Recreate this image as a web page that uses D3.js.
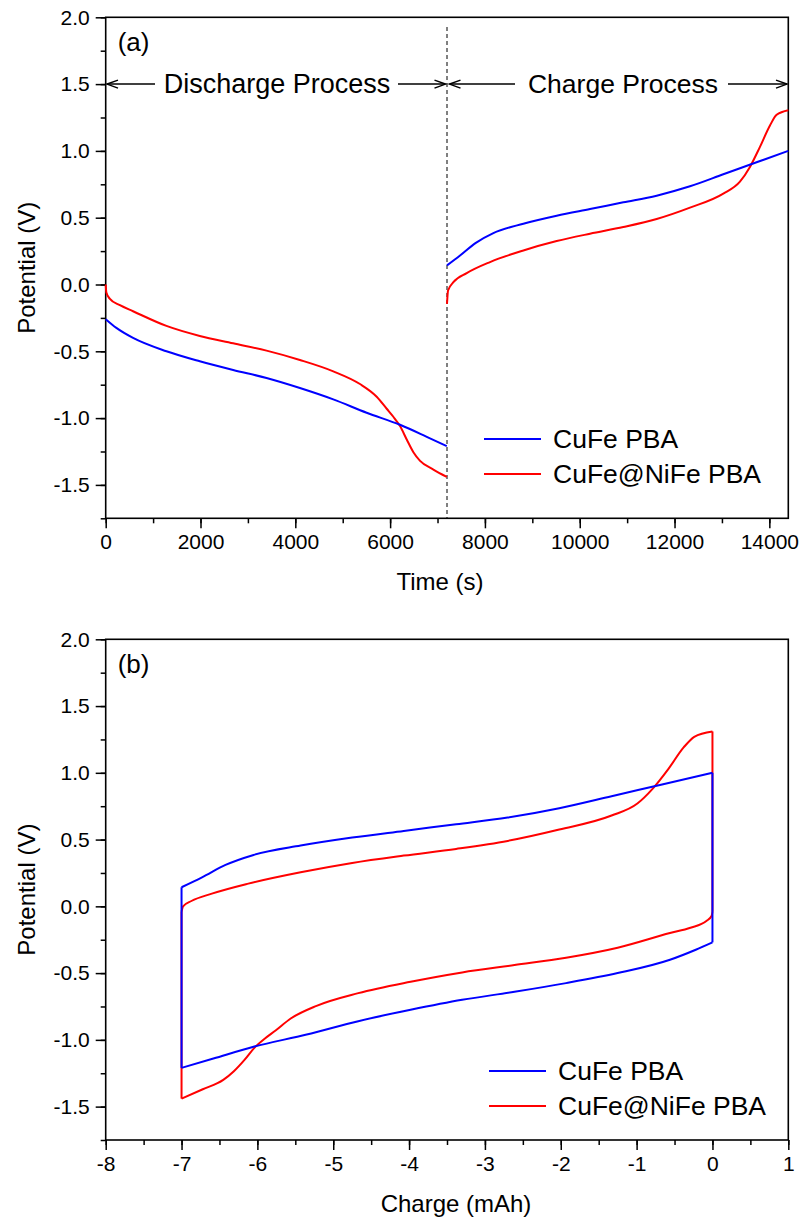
<!DOCTYPE html>
<html>
<head>
<meta charset="utf-8">
<script src="https://cdnjs.cloudflare.com/ajax/libs/d3/7.8.5/d3.min.js"></script>
<style>
  body { margin: 0; background: #fff; }
  svg { display: block; font-family: "Liberation Sans", Arial, sans-serif; }
</style>
</head>
<body>
<svg id="chart" width="804" height="1229"></svg>
<script>
// ---- data ----
// panel (a): time (s) vs potential (V)
var cufeDischargeT = [0, 225, 577, 1281, 1985, 2689, 3393, 4097, 4801, 5505, 6209, 6773, 7195];
var cufeDischargeV = [-0.26, -0.325, -0.40, -0.50, -0.575, -0.64, -0.70, -0.775, -0.86, -0.96, -1.05, -1.14, -1.21];
var cufeChargeT = [7200, 7475, 7800, 8178, 8811, 9514, 10217, 10920, 11623, 12326, 13029, 13731, 14400];
var cufeChargeV = [0.143, 0.217, 0.31, 0.385, 0.455, 0.515, 0.565, 0.615, 0.665, 0.735, 0.825, 0.915, 1.0];
var nifeDischargeT = [0, 14, 84, 300, 577, 1281, 1985, 2689, 3393, 4097, 4801, 5364, 5717, 5928, 6068, 6209, 6350, 6491, 6632, 6913, 7195];
var nifeDischargeV = [0.0, -0.06, -0.105, -0.155, -0.20, -0.31, -0.385, -0.44, -0.495, -0.565, -0.65, -0.745, -0.84, -0.93, -0.99, -1.06, -1.16, -1.255, -1.32, -1.385, -1.44];
var nifeChargeT = [7200, 7222, 7335, 7616, 8108, 8811, 9514, 10217, 10920, 11623, 12326, 13029, 13380, 13591, 13802, 14013, 14154, 14400];
var nifeChargeV = [-0.145, -0.045, 0.017, 0.085, 0.168, 0.255, 0.325, 0.38, 0.43, 0.49, 0.575, 0.68, 0.77, 0.88, 1.03, 1.19, 1.27, 1.305];

// panel (b): charge (mAh) vs potential (V)
var cufeDischargeQ = [0, -0.22, -0.56, -1.25, -1.93, -2.61, -3.30, -3.98, -4.67, -5.35, -6.04, -6.58, -7.0];
var cufeDischargeQV = [-0.27, -0.325, -0.40, -0.50, -0.575, -0.64, -0.70, -0.775, -0.86, -0.96, -1.05, -1.14, -1.21];
var cufeChargeQ = [-7.0, -6.73, -6.42, -6.05, -5.43, -4.75, -4.07, -3.38, -2.70, -2.02, -1.33, -0.65, 0];
var cufeChargeQV = [0.143, 0.217, 0.31, 0.385, 0.455, 0.515, 0.565, 0.615, 0.665, 0.735, 0.825, 0.915, 1.0];
var nifeDischargeQ = [0, -0.01, -0.08, -0.29, -0.56, -1.25, -1.93, -2.61, -3.30, -3.98, -4.67, -5.22, -5.56, -5.76, -5.90, -6.04, -6.17, -6.31, -6.45, -6.72, -7.0];
var nifeDischargeQV = [-0.04, -0.07, -0.11, -0.16, -0.20, -0.31, -0.385, -0.44, -0.495, -0.565, -0.65, -0.745, -0.84, -0.93, -0.99, -1.06, -1.15, -1.235, -1.30, -1.37, -1.44];
var nifeChargeQ = [-7.0, -6.98, -6.87, -6.60, -6.12, -5.43, -4.75, -4.07, -3.38, -2.70, -2.02, -1.33, -0.99, -0.79, -0.58, -0.38, -0.24, 0];
var nifeChargeQV = [-0.04, 0.0, 0.04, 0.095, 0.17, 0.255, 0.325, 0.38, 0.43, 0.49, 0.575, 0.68, 0.77, 0.88, 1.03, 1.19, 1.27, 1.31];

var seriesNames = ["CuFe PBA", "CuFe@NiFe PBA"];
var seriesColors = ["#0000ff", "#ff0000"];

var yTicks = [-1.5, -1.0, -0.5, 0.0, 0.5, 1.0, 1.5, 2.0];
var timeTicks = [0, 2000, 4000, 6000, 8000, 10000, 12000, 14000];
var chargeTicks = [-8, -7, -6, -5, -4, -3, -2, -1, 0, 1];

function zip(a, b) { return a.map(function (v, i) { return [v, b[i]]; }); }
// plain hyphen for negatives, like the original figure
function fmt(spec) {
  var f = d3.format(spec);
  return function (d) { return f(d).replace("\u2212", "-"); };
}

var svg = d3.select("#chart");
var left = 105.7, right = 788.3;

function panel(top, bottom, xDomain, xTicks, xMinorStep, xTitle, xTitleX, label) {
  var x = d3.scaleLinear().domain(xDomain).range([left, right]);
  var y = d3.scaleLinear().domain([-1.75, 2.0]).range([bottom, top]);
  var g = svg.append("g");

  // minor ticks
  var xMinor = d3.range(xDomain[0], xDomain[1] + 1e-9, xMinorStep);
  g.append("g").attr("transform", "translate(0," + bottom + ")")
    .call(d3.axisBottom(x).tickValues(xMinor).tickSize(5).tickFormat(""))
    .call(function (s) { s.select(".domain").remove(); s.selectAll("line").attr("stroke-width", 1.5); });
  g.append("g").attr("transform", "translate(" + left + ",0)")
    .call(d3.axisLeft(y).tickValues(d3.range(-1.75, 2.01, 0.25)).tickSize(5).tickFormat(""))
    .call(function (s) { s.select(".domain").remove(); s.selectAll("line").attr("stroke-width", 1.5); });

  // major ticks
  g.append("g").attr("transform", "translate(0," + bottom + ")")
    .call(d3.axisBottom(x).tickValues(xTicks).tickSize(10).tickPadding(6).tickFormat(fmt("d")))
    .call(function (s) {
      s.select(".domain").remove();
      s.selectAll("line").attr("stroke-width", 1.5);
      s.selectAll("text").attr("font-size", 21).attr("fill", "#000").attr("font-family", "Liberation Sans, Arial, sans-serif");
    });
  g.append("g").attr("transform", "translate(" + left + ",0)")
    .call(d3.axisLeft(y).tickValues(yTicks).tickSize(10).tickPadding(6).tickFormat(fmt(".1f")))
    .call(function (s) {
      s.select(".domain").remove();
      s.selectAll("line").attr("stroke-width", 1.5);
      s.selectAll("text").attr("font-size", 21).attr("fill", "#000").attr("font-family", "Liberation Sans, Arial, sans-serif");
    });

  // frame
  g.append("rect").attr("x", left).attr("y", top)
    .attr("width", right - left).attr("height", bottom - top)
    .attr("fill", "none").attr("stroke", "#000").attr("stroke-width", 1.6);

  g.append("text").attr("x", xTitleX).attr("y", bottom + 72)
    .attr("text-anchor", "middle").attr("font-size", 24).text(xTitle);
  g.append("text").attr("transform", "translate(35," + (top + bottom) / 2 + ") rotate(-90)")
    .attr("text-anchor", "middle").attr("font-size", 24).text("Potential (V)");
  g.append("text").attr("x", left + 12).attr("y", top + 34)
    .attr("font-size", 26).text(label);

  return { x: x, y: y, g: g };
}

function drawLegend(g, x0, y0) {
  seriesNames.forEach(function (name, i) {
    var yy = y0 + i * 35;
    g.append("line").attr("x1", x0).attr("x2", x0 + 57).attr("y1", yy).attr("y2", yy)
      .attr("stroke", seriesColors[i]).attr("stroke-width", 2);
    g.append("text").attr("x", x0 + 69).attr("y", yy + 9).attr("font-size", 26.5).text(name);
  });
}

// ---- panel (a) ----
var pa = panel(17.3, 518.3, [0, 14400], timeTicks, 1000, "Time (s)", 440, "(a)");
var lineA = d3.line().x(function (d) { return pa.x(d[0]); }).y(function (d) { return pa.y(d[1]); })
  .curve(d3.curveMonotoneX);

pa.g.append("line").attr("x1", pa.x(7200)).attr("x2", pa.x(7200))
  .attr("y1", 27).attr("y2", 518.3)
  .attr("stroke", "#000").attr("stroke-width", 1).attr("stroke-dasharray", "4,3");

[[nifeDischargeT, nifeDischargeV, 1], [nifeChargeT, nifeChargeV, 1],
 [cufeDischargeT, cufeDischargeV, 0], [cufeChargeT, cufeChargeV, 0]].forEach(function (s) {
  pa.g.append("path").datum(zip(s[0], s[1])).attr("d", lineA)
    .attr("fill", "none").attr("stroke", seriesColors[s[2]]).attr("stroke-width", 2);
});

// process annotations
function arrow(g, x1, x2, yy) {
  var dir = x2 > x1 ? 1 : -1;
  g.append("line").attr("x1", x1).attr("x2", x2).attr("y1", yy).attr("y2", yy)
    .attr("stroke", "#000").attr("stroke-width", 1.5);
  g.append("path")
    .attr("d", "M" + (x2 - dir * 11) + "," + (yy - 4) + "L" + x2 + "," + yy + "L" + (x2 - dir * 11) + "," + (yy + 4))
    .attr("fill", "none").attr("stroke", "#000").attr("stroke-width", 1.5);
}
var annY = pa.y(1.5);
arrow(pa.g, 155, 107, annY);
arrow(pa.g, 398, 445.5, annY);
arrow(pa.g, 515, 449.5, annY);
arrow(pa.g, 728, 787, annY);
pa.g.append("text").attr("x", 277).attr("y", annY + 9).attr("text-anchor", "middle")
  .attr("font-size", 27).text("Discharge Process");
pa.g.append("text").attr("x", 623).attr("y", annY + 9).attr("text-anchor", "middle")
  .attr("font-size", 26.5).text("Charge Process");

drawLegend(pa.g, 484, 439);

// ---- panel (b) ----
var pb = panel(639.3, 1140, [-8, 1], chargeTicks, 0.5, "Charge (mAh)", 456, "(b)");
var lineB = d3.line().x(function (d) { return pb.x(d[0]); }).y(function (d) { return pb.y(d[1]); })
  .curve(d3.curveMonotoneX);
var lineStraight = d3.line().x(function (d) { return pb.x(d[0]); }).y(function (d) { return pb.y(d[1]); });

function loop(q1, v1, q2, v2, color) {
  var dis = zip(q1, v1).slice().reverse();
  var chg = zip(q2, v2);
  pb.g.append("path").datum(dis).attr("d", lineB)
    .attr("fill", "none").attr("stroke", color).attr("stroke-width", 2);
  pb.g.append("path").datum(chg).attr("d", lineB)
    .attr("fill", "none").attr("stroke", color).attr("stroke-width", 2);
  // vertical switch-over segments
  pb.g.append("path").datum([dis[0], chg[0]]).attr("d", lineStraight)
    .attr("fill", "none").attr("stroke", color).attr("stroke-width", 2);
  pb.g.append("path").datum([chg[chg.length - 1], dis[dis.length - 1]]).attr("d", lineStraight)
    .attr("fill", "none").attr("stroke", color).attr("stroke-width", 2);
}
loop(nifeDischargeQ, nifeDischargeQV, nifeChargeQ, nifeChargeQV, seriesColors[1]);
loop(cufeDischargeQ, cufeDischargeQV, cufeChargeQ, cufeChargeQV, seriesColors[0]);

drawLegend(pb.g, 489, 1071);
</script>
</body>
</html>
